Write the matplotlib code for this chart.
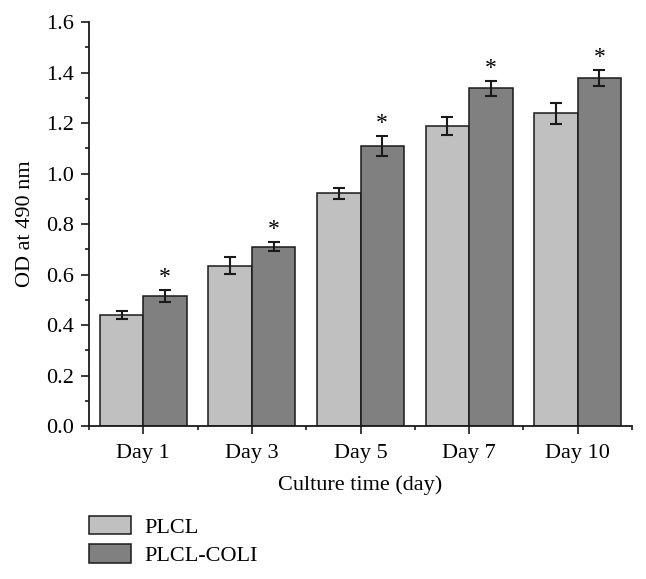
import matplotlib.pyplot as plt
import numpy as np

days = ['Day 1', 'Day 3', 'Day 5', 'Day 7', 'Day 10']
plcl = [0.44, 0.635, 0.921, 1.187, 1.238]
plcl_err = [0.015, 0.033, 0.022, 0.036, 0.041]
coli = [0.515, 0.71, 1.108, 1.337, 1.378]
coli_err = [0.023, 0.018, 0.039, 0.030, 0.032]

plt.rcParams['font.family'] = ['Liberation Serif', 'DejaVu Serif']
plt.rcParams['font.size'] = 16

fig = plt.figure(figsize=(6.46, 5.79), dpi=100)
ax = fig.add_axes([0.1378, 0.2642, 0.8405, 0.6978])

x = np.arange(len(days))
w = 0.4
err_kw = dict(ecolor='#1a1a1a', elinewidth=1.5, capsize=4, capthick=1.5)
ax.bar(x - w / 2, plcl, w, yerr=plcl_err, color='#c0c0c0', edgecolor='#1a1a1a',
       linewidth=1.1, label='PLCL', error_kw=err_kw)
ax.bar(x + w / 2, coli, w, yerr=coli_err, color='#808080', edgecolor='#1a1a1a',
       linewidth=1.1, label='PLCL-COLI', error_kw=err_kw)

# significance markers
for xi, v, e in zip(x, coli, coli_err):
    ax.text(xi + w / 2, v + e + 0.008, '*', ha='center', va='bottom', fontsize=17)

ax.set_xlim(-0.5, len(days) - 0.5)
ax.set_ylim(0, 1.6)
ax.set_xticks(x)
ax.set_xticklabels(days)
ax.set_xticks(np.arange(-0.5, len(days), 1), minor=True)
ax.set_yticks(np.arange(0, 1.61, 0.2))
ax.set_yticks(np.arange(0.1, 1.6, 0.2), minor=True)
ax.yaxis.set_major_formatter(plt.FormatStrFormatter('%.1f'))
ax.tick_params(which='major', direction='out', length=6, width=1.2, color='#1a1a1a')
ax.tick_params(which='minor', direction='out', length=3, width=1.2, color='#1a1a1a')
ax.tick_params(axis='x', pad=7)
ax.tick_params(axis='y', pad=5)

for s in ['top', 'right']:
    ax.spines[s].set_visible(False)
for s in ['left', 'bottom']:
    ax.spines[s].set_linewidth(1.3)
    ax.spines[s].set_color('#1a1a1a')

ax.set_xlabel('Culture time (day)', labelpad=9)
ax.set_ylabel('OD at 490 nm', labelpad=8)

ax.legend(loc='upper left', bbox_to_anchor=(0.0, -0.222), frameon=False,
          handlelength=1.9, handleheight=0.9, handletextpad=0.6,
          labelspacing=0.3, borderaxespad=0, borderpad=0)

fig.savefig('out.png', dpi=100)
